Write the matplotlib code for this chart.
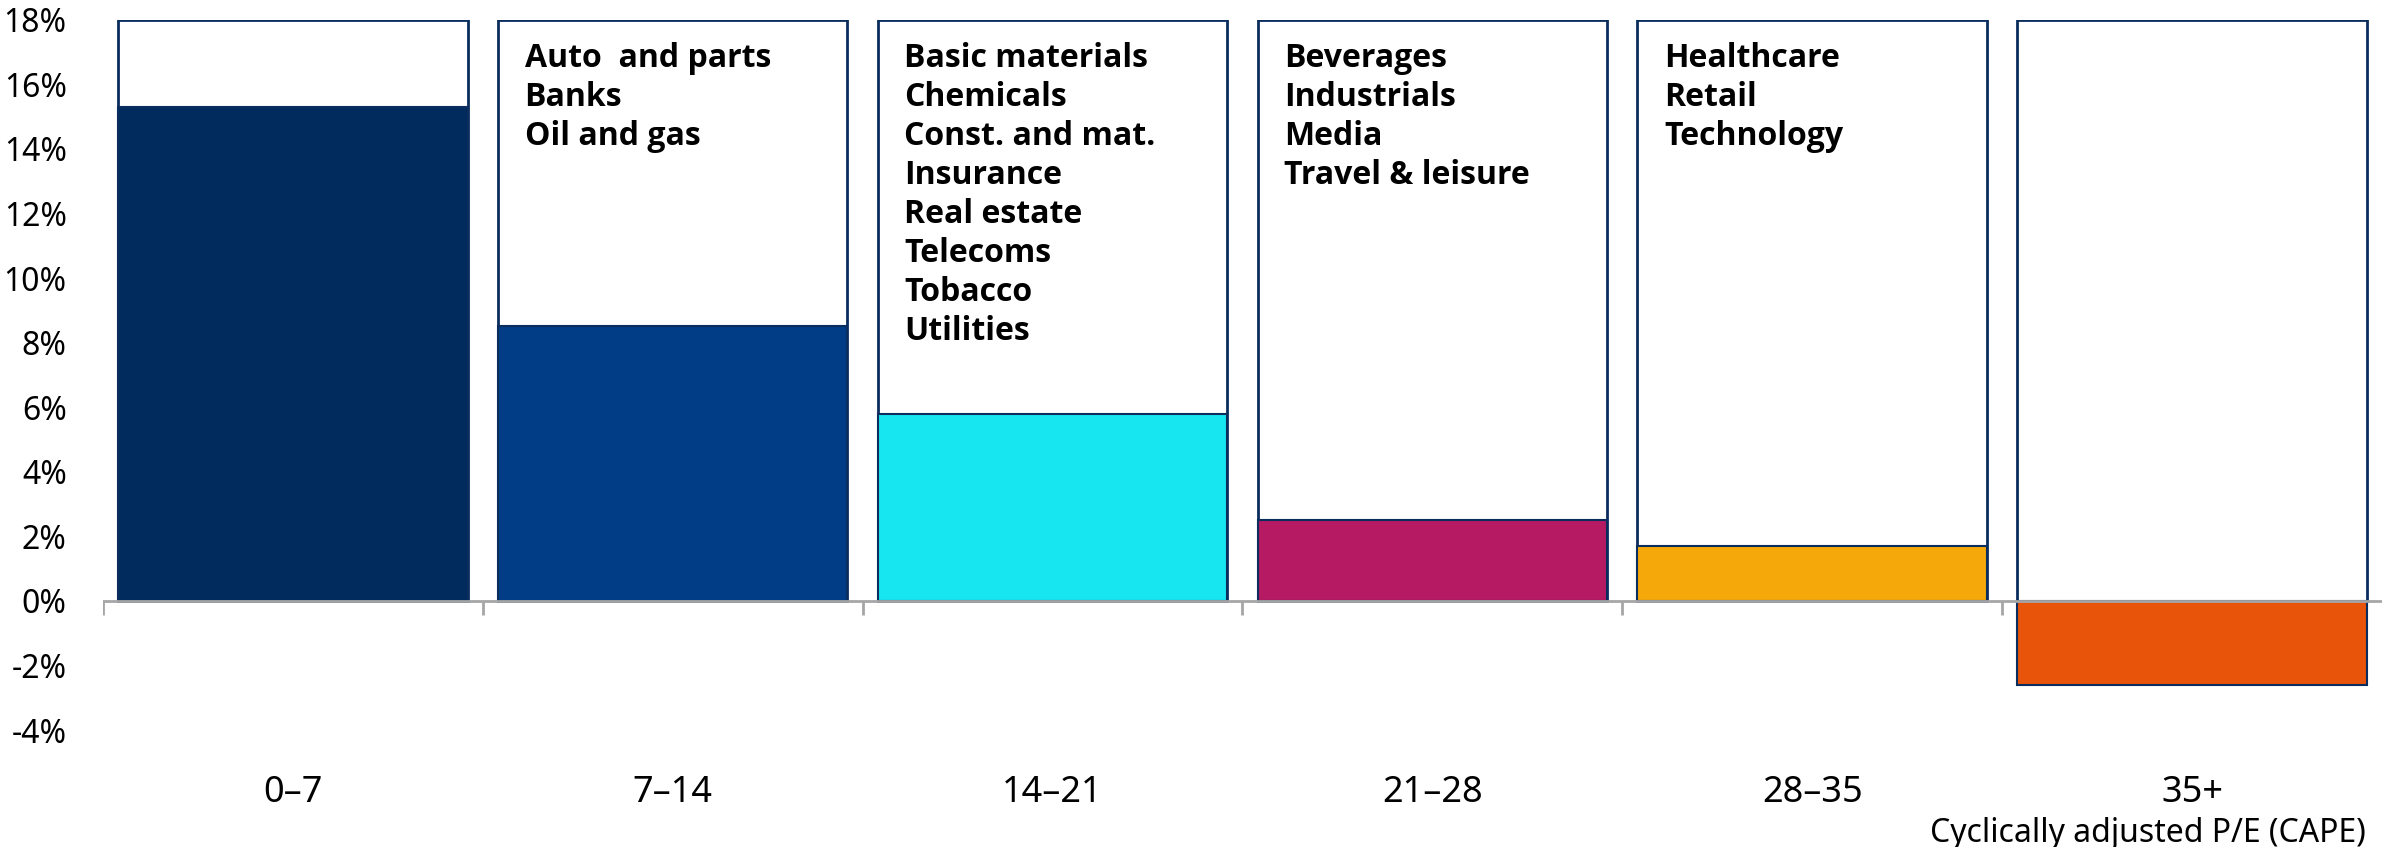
import matplotlib
matplotlib.use("Agg")
import matplotlib.pyplot as plt
from matplotlib.ticker import FuncFormatter
import numpy as np

plt.rcParams["font.family"] = ["Noto Sans", "DejaVu Sans"]

# данные
categories = ["0\u20137", "7\u201314", "14\u201321", "21\u201328", "28\u201335", "35+"]
returns = [15.3, 8.5, 5.8, 2.5, 1.7, -2.6]
bar_colors = ["#002B5C", "#003D86", "#17E5EF", "#B51A62", "#F5A80A", "#E8540A"]
sectors = [
    [],
    ["Auto  and parts", "Banks", "Oil and gas"],
    ["Basic materials", "Chemicals", "Const. and mat.", "Insurance",
     "Real estate", "Telecoms", "Tobacco", "Utilities"],
    ["Beverages", "Industrials", "Media", "Travel & leisure"],
    ["Healthcare", "Retail", "Technology"],
    [],
]
y_ticks = [-4, -2, 0, 2, 4, 6, 8, 10, 12, 14, 16, 18]
box_top = 18
x_title = "Cyclically adjusted P/E (CAPE)"

navy = "#0B2D5E"
grey = "#A6A6A6"

fig = plt.figure(figsize=(23.82, 8.47), dpi=100)
ax = fig.add_axes([0.0432, 0.138, 0.9568, 0.8387])

x = np.arange(len(categories))
width = 0.92

# белые рамки по каждой категории
ax.bar(x, [box_top] * len(x), width=width, color="white",
       edgecolor=navy, linewidth=2, zorder=1)
# сами значения
ax.bar(x, returns, width=width, color=bar_colors,
       edgecolor=navy, linewidth=1.5, zorder=2)

# списки секторов внутри рамок
for i, names in enumerate(sectors):
    if names:
        ax.text(x[i] - width / 2 + 0.07, 17.3, "\n".join(names),
                fontsize=23, fontweight="bold", va="top", ha="left",
                family=["Open Sans", "Noto Sans", "DejaVu Sans"],
                linespacing=1.24, zorder=3)

ax.set_xlim(-0.5, len(categories) - 0.5)
ax.set_ylim(-4, 18)

# ось x на нуле и засечки между категориями
ax.axhline(0, color=grey, linewidth=2, zorder=4)
bounds = np.arange(len(categories)) - 0.5
ax.vlines(bounds, -0.45, 0, color=grey, linewidth=2, zorder=4)

ax.set_xticks(x)
ax.set_xticklabels(categories, fontsize=26)
ax.tick_params(axis="x", length=0, pad=32)

ax.set_yticks(y_ticks)
ax.yaxis.set_major_formatter(FuncFormatter(lambda v, p: f"{v:.0f}%"))
ax.tick_params(axis="y", length=0, pad=26, labelsize=23)

for s in ax.spines.values():
    s.set_visible(False)

fig.text(0.993, -0.003, x_title, ha="right", va="bottom", fontsize=23)

fig.savefig("out.png", dpi=100)
